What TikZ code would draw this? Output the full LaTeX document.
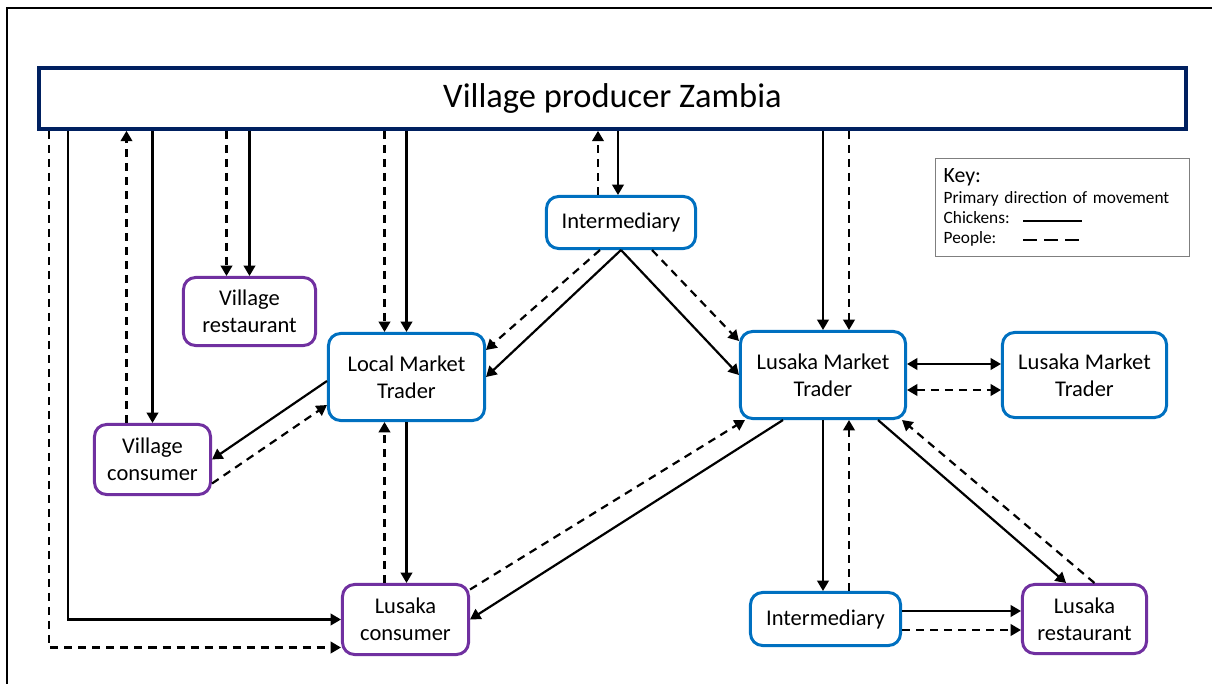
\documentclass[tikz,border=0pt]{standalone}
\usepackage{fontspec}
\setmainfont{Carlito}
\usetikzlibrary{arrows.meta,calc}
\definecolor{TraderClr}{RGB}{0,112,192}
\definecolor{ConsumerClr}{RGB}{112,48,160}
\definecolor{ProducerClr}{RGB}{0,32,96}
\definecolor{KeyClr}{RGB}{127,127,127}
\tikzset{
  box/.style={draw,line width=0.075cm,rounded corners=0.3cm,align=center,
    inner sep=0pt,font=\fontsize{16}{19.5}\selectfont},
  trader/.style={box,draw=TraderClr},
  buyer/.style={box,draw=ConsumerClr},
  chk/.style={line width=0.055cm},
  ppl/.style={chk,dash pattern=on 0.2cm off 0.15cm}
}
\begin{document}
\begin{tikzpicture}[x=0.025cm,y=-0.025cm,>={Triangle[length=0.26cm,width=0.29cm]}]
\useasboundingbox (0,0) rectangle (1212,684);
\draw[line width=0.05cm] (7,684) -- (7,8) -- (1212,8);

\node[draw=ProducerClr,line width=0.09cm,minimum width=28.675cm,minimum height=1.525cm,
  font=\fontsize{24.5}{29}\selectfont] (prod) at (612.5,98.5) {Village producer Zambia};

\node[trader,minimum width=3.725cm,minimum height=1.3cm] (intA) at (621,222.5) {Intermediary};
\node[buyer,minimum width=3.3cm,minimum height=1.7cm] (vrest) at (249.5,311.5) {Village\\restaurant};
\node[trader,minimum width=3.9cm,minimum height=2.175cm] (lmt) at (406.5,377) {Local Market\\Trader};
\node[trader,minimum width=4.125cm,minimum height=2.175cm] (lusmt) at (823,375) {Lusaka Market\\Trader};
\node[trader,minimum width=4.1cm,minimum height=2.125cm] (lusmtB) at (1084.5,375) {Lusaka Market\\Trader};
\node[buyer,minimum width=2.9cm,minimum height=1.75cm] (vcons) at (152.5,459.5) {Village\\consumer};
\node[buyer,minimum width=3.15cm,minimum height=1.75cm] (lcons) at (405.5,619.5) {Lusaka\\consumer};
\node[trader,minimum width=3.75cm,minimum height=1.325cm] (intB) at (825.5,619) {Intermediary};
\node[buyer,minimum width=3.1cm,minimum height=1.725cm] (lrest) at (1084.5,619) {Lusaka\\restaurant};

\node[draw=KeyClr,line width=0.035cm,anchor=north west,align=left,text width=5.95cm,
  minimum height=2.45cm,inner xsep=0.2cm,inner ysep=0.08cm,
  font=\fontsize{12.3}{14.5}\selectfont] (key) at (935,158)
  {{\fontsize{15.5}{17.5}\selectfont Key:}\\Primary direction of movement\\Chickens:\\People:};
\draw[line width=0.07cm] (1023,221) -- (1082,221);
\draw[line width=0.07cm,dash pattern=on 0.35cm off 0.18cm] (1023,240) -- (1086,240);

\draw[ppl,->] ([xshift=0.3cm]prod.south west) |- ([yshift=-0.7cm]lcons.west);
\draw[chk,->] ([xshift=0.775cm]prod.south west) |- (lcons.west);
\draw[ppl,->] ([xshift=-0.65cm]vcons.north) -- ([xshift=-0.65cm]vcons.north |- prod.south);
\draw[chk,->] (vcons.north |- prod.south) -- (vcons.north);
\draw[ppl,->] ([xshift=-0.575cm]vrest.north |- prod.south) -- ([xshift=-0.575cm]vrest.north);
\draw[chk,->] (vrest.north |- prod.south) -- (vrest.north);
\draw[ppl,->] ([xshift=-0.55cm]lmt.north |- prod.south) -- ([xshift=-0.55cm]lmt.north);
\draw[chk,->] (lmt.north |- prod.south) -- (lmt.north);
\draw[ppl,->] ([xshift=-0.575cm]intA.north) -- ([xshift=-0.575cm]intA.north |- prod.south);
\draw[chk,->] ([xshift=-0.075cm]intA.north |- prod.south) -- ([xshift=-0.075cm]intA.north);
\draw[chk,->] (lusmt.north |- prod.south) -- (lusmt.north);
\draw[ppl,->] ([xshift=0.65cm]lusmt.north |- prod.south) -- ([xshift=0.65cm]lusmt.north);

\draw[ppl,->] ([xshift=-0.525cm]intA.south) -- ([yshift=0.675cm]lmt.east);
\draw[chk,->] (intA.south) -- (lmt.east);
\draw[ppl,->] ([xshift=0.775cm]intA.south) -- ([yshift=0.85cm]lusmt.west);
\draw[chk,->] (intA.south) -- (lusmt.west);

\draw[chk,->] ([yshift=-0.1cm]lmt.west) -- (vcons.east);
\draw[ppl,->] ([yshift=-0.6cm]vcons.east) -- ([yshift=-0.7cm]lmt.west);
\draw[chk,->] (lmt.south) -- (lmt.south |- lcons.north);
\draw[ppl,->] ([xshift=-0.55cm]lmt.south |- lcons.north) -- ([xshift=-0.55cm]lmt.south);

\draw[chk,->] ([xshift=-1cm]lusmt.south) -- (lcons.east);
\draw[ppl,->] ([yshift=0.75cm]lcons.east) -- ([xshift=0.15cm]lusmt.south west);
\draw[chk,<->] ([yshift=0.275cm]lusmt.east) -- ([yshift=0.275cm]lusmt.east -| lusmtB.west);
\draw[ppl,<->] ([yshift=-0.375cm]lusmt.east) -- ([yshift=-0.375cm]lusmt.east -| lusmtB.west);
\draw[chk,->] (lusmt.south) -- (lusmt.south |- intB.north);
\draw[ppl,->] ([xshift=0.65cm]lusmt.south |- intB.north) -- ([xshift=0.65cm]lusmt.south);
\draw[chk,->] ([xshift=1.375cm]lusmt.south) -- ([xshift=-0.46cm]lrest.north);
\draw[ppl,->] ([xshift=0.25cm]lrest.north) -- ([xshift=-0.125cm]lusmt.south east);
\draw[chk,->] ([yshift=0.2cm]intB.east) -- ([yshift=0.2cm]intB.east -| lrest.west);
\draw[ppl,->] ([yshift=-0.275cm]intB.east) -- ([yshift=-0.275cm]intB.east -| lrest.west);
\end{tikzpicture}
\end{document}
